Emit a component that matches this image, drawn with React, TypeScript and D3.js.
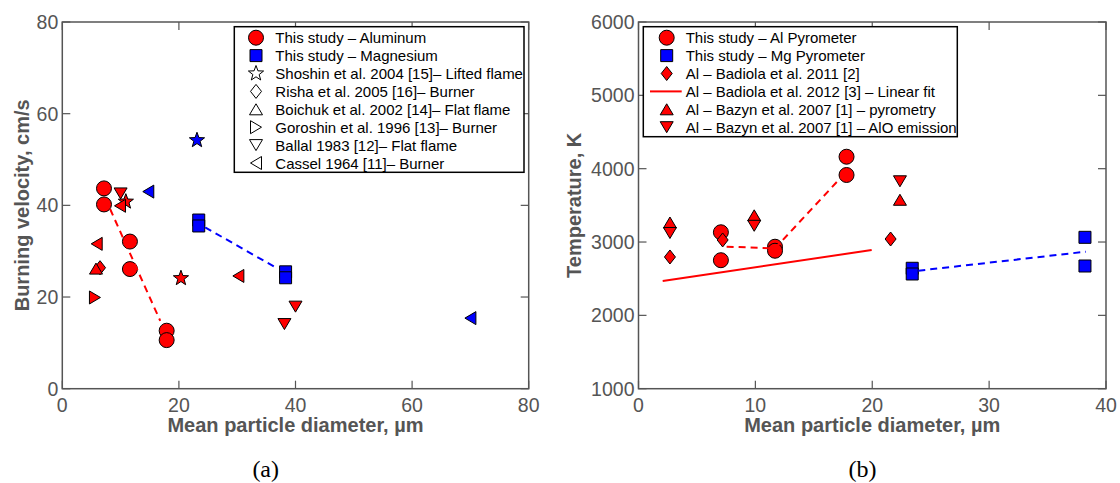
import React from "react";
import * as d3 from "d3";

// ---------------- Panel (a) data ----------------
const aXTicks = [0, 20, 40, 60, 80];
const aYTicks = [0, 20, 40, 60, 80];
const alD = [7.15, 7.15, 11.6, 11.6, 17.9, 17.9];
const alV = [43.7, 40.2, 32.1, 26.1, 12.65, 10.6];
const mgD = [23.4, 23.4, 38.3, 38.3];
const mgV = [36.8, 35.5, 25.5, 24.2];
const alFitD = [8.2, 16.8];
const alFitV = [39.2, 14.8];
const mgFitD = [24.5, 36.8];
const mgFitV = [35.2, 26.3];
const shoshinD = [10.9, 20.35, 23.1];
const shoshinV = [40.8, 24.1, 54.2];
const shoshinM = ["Al", "Al", "Mg"];
const rishaD = [6.47];
const rishaV = [26.4];
const rishaM = ["Al"];
const boichukD = [5.78];
const boichukV = [26.2];
const boichukM = ["Al"];
const goroshinD = [5.6];
const goroshinV = [19.9];
const goroshinM = ["Al"];
const ballalD = [10.0, 40.0, 38.1];
const ballalV = [42.6, 17.9, 14.1];
const ballalM = ["Al", "Al", "Al"];
const casselD = [5.9, 9.9, 30.2, 14.75, 70];
const casselV = [31.6, 39.9, 24.6, 43.0, 15.4];
const casselM = ["Al", "Al", "Al", "Mg", "Mg"];
const aLegend = [
  "This study – Aluminum",
  "This study – Magnesium",
  "Shoshin et al. 2004 [15]– Lifted flame",
  "Risha et al. 2005 [16]– Burner",
  "Boichuk et al. 2002 [14]– Flat flame",
  "Goroshin et al. 1996 [13]– Burner",
  "Ballal 1983 [12]– Flat flame",
  "Cassel 1964 [11]– Burner",
];

// ---------------- Panel (b) data ----------------
const bXTicks = [0, 10, 20, 30, 40];
const bYTicks = [1000, 2000, 3000, 4000, 5000, 6000];
const alPyroD = [7.05, 7.05, 11.68, 11.68, 17.8, 17.8];
const alPyroT = [3133, 2752, 2936, 2881, 4163, 3914];
const mgPyroD = [23.42, 23.42, 38.2, 38.2];
const mgPyroT = [2642, 2564, 3064, 2673];
const alPyroLineD = [7.54, 11.68, 17.66];
const alPyroLineT = [2936, 2914, 3937];
const mgPyroLineD = [23.94, 38.28];
const mgPyroLineT = [2609, 2868];
const badiola2011D = [2.69, 7.2, 21.57];
const badiola2011T = [2796, 3028, 3041];
const badiola2012D = [2.07, 19.95];
const badiola2012T = [2468, 2891];
const bazynPyroD = [2.69, 9.9, 22.37];
const bazynPyroT = [3266, 3364, 3576];
const bazynAlOD = [2.69, 9.9, 22.37];
const bazynAlOT = [3123, 3221, 3828];
const bLegend = [
  "This study – Al Pyrometer",
  "This study – Mg Pyrometer",
  "Al – Badiola et al. 2011 [2]",
  "Al – Badiola et al. 2012 [3] – Linear fit",
  "Al – Bazyn et al. 2007 [1] – pyrometry",
  "Al – Bazyn et al. 2007 [1] – AlO emission",
];

// ---------------- styling ----------------
const RED = "#ff0000";
const BLUE = "#0000ff";
const AXIS = "#555555";
const FONT = "'Liberation Sans', Arial, Helvetica, sans-serif";

function starPath(R: number, r: number) {
  const pts: string[] = [];
  for (let i = 0; i < 10; i++) {
    const rad = i % 2 === 0 ? R : r;
    const a = -Math.PI / 2 + (i * Math.PI) / 5;
    pts.push(`${(rad * Math.cos(a)).toFixed(2)},${(rad * Math.sin(a)).toFixed(2)}`);
  }
  return "M" + pts.join("L") + "Z";
}

const SHAPES: Record<string, string> = {
  up: "M0,-5.5L6.5,5.5L-6.5,5.5Z",
  down: "M0,5.5L6.5,-5.5L-6.5,-5.5Z",
  left: "M-5.5,0L5.5,-6.5L5.5,6.5Z",
  right: "M5.5,0L-5.5,-6.5L-5.5,6.5Z",
  diamond: "M0,-7L5.5,0L0,7L-5.5,0Z",
  star: starPath(8, 3.3),
  square: "M-6,-6L6,-6L6,6L-6,6Z",
};

function Marker({ shape, x, y, fill }: { shape: string; x: number; y: number; fill: string }) {
  if (shape === "circle")
    return <circle cx={x} cy={y} r={7.5} fill={fill} stroke="#000" strokeWidth={1} />;
  return (
    <path d={SHAPES[shape]} transform={`translate(${x},${y})`} fill={fill} stroke="#000" strokeWidth={1} strokeLinejoin="miter" />
  );
}

type Frame = { left: number; right: number; top: number; bottom: number };

function Axes({ frame, xs, ys, xTicks, yTicks, xLabel, yLabel, yLabelX, caption }: any) {
  const tl = 8;
  return (
    <g>
      <rect x={frame.left} y={frame.top} width={frame.right - frame.left} height={frame.bottom - frame.top} fill="none" stroke={AXIS} strokeWidth={1.5} />
      {xTicks.map((t: number) => (
        <g key={"x" + t}>
          <line x1={xs(t)} x2={xs(t)} y1={frame.bottom} y2={frame.bottom - tl} stroke={AXIS} strokeWidth={1.2} />
          <line x1={xs(t)} x2={xs(t)} y1={frame.top} y2={frame.top + tl} stroke={AXIS} strokeWidth={1.2} />
          <text x={xs(t)} y={frame.bottom + 16} textAnchor="middle" dominantBaseline="central" fontFamily={FONT} fontSize={19.5} fill={AXIS}>{t}</text>
        </g>
      ))}
      {yTicks.map((t: number) => (
        <g key={"y" + t}>
          <line x1={frame.left} x2={frame.left + tl} y1={ys(t)} y2={ys(t)} stroke={AXIS} strokeWidth={1.2} />
          <line x1={frame.right} x2={frame.right - tl} y1={ys(t)} y2={ys(t)} stroke={AXIS} strokeWidth={1.2} />
          <text x={frame.left - 4} y={ys(t)} textAnchor="end" dominantBaseline="central" fontFamily={FONT} fontSize={19.5} fill={AXIS}>{t}</text>
        </g>
      ))}
      <text x={(frame.left + frame.right) / 2} y={425} textAnchor="middle" dominantBaseline="central" fontFamily={FONT} fontSize={20} fontWeight="bold" fill={AXIS}>{xLabel}</text>
      <text transform={`translate(${yLabelX},${(frame.top + frame.bottom) / 2}) rotate(-90)`} textAnchor="middle" dominantBaseline="central" fontFamily={FONT} fontSize={20} fontWeight="bold" fill={AXIS}>{yLabel}</text>
      <text x={caption.x} y={469} textAnchor="middle" dominantBaseline="central" fontFamily="'Liberation Serif', 'Times New Roman', serif" fontSize={24} fill="#000">{caption.text}</text>
    </g>
  );
}

function PanelA() {
  const frame: Frame = { left: 62.3, right: 528.7, top: 22, bottom: 388.7 };
  const xs = d3.scaleLinear().domain([0, 80]).range([frame.left, frame.right]);
  const ys = d3.scaleLinear().domain([0, 80]).range([frame.bottom, frame.top]);
  const line = d3.line<[number, number]>().x((d) => xs(d[0])).y((d) => ys(d[1]));
  const col = (m: string) => (m === "Al" ? RED : BLUE);
  const zip = (a: number[], b: number[]) => a.map((v, i) => [v, b[i]] as [number, number]);
  const groups: [string, number[], number[], string[]][] = [
    ["star", shoshinD, shoshinV, shoshinM],
    ["diamond", rishaD, rishaV, rishaM],
    ["up", boichukD, boichukV, boichukM],
    ["right", goroshinD, goroshinV, goroshinM],
    ["down", ballalD, ballalV, ballalM],
    ["left", casselD, casselV, casselM],
  ];
  const legShapes = ["circle", "square", "star", "diamond", "up", "right", "down", "left"];
  const lg = { x: 234.3, y: 26.7, w: 289.7, h: 145.6, mx: 256, tx: 275.3, y0: 37.7, dy: 17.9 };
  return (
    <g>
      <Axes frame={frame} xs={xs} ys={ys} xTicks={aXTicks} yTicks={aYTicks} xLabel="Mean particle diameter, µm" yLabel="Burning velocity, cm/s" yLabelX={21.5} caption={{ x: 265.7, text: "(a)" }} />
      {alD.map((d, i) => <Marker key={"al" + i} shape="circle" x={xs(d)} y={ys(alV[i])} fill={RED} />)}
      {mgD.map((d, i) => <Marker key={"mg" + i} shape="square" x={xs(d)} y={ys(mgV[i])} fill={BLUE} />)}
      {groups.map(([shape, D, V, M]) =>
        D.map((d, i) => <Marker key={shape + i} shape={shape} x={xs(d)} y={ys(V[i])} fill={col(M[i])} />)
      )}
      <path d={line(zip(alFitD, alFitV)) || ""} fill="none" stroke={RED} strokeWidth={2} strokeDasharray="7,5" />
      <path d={line(zip(mgFitD, mgFitV)) || ""} fill="none" stroke={BLUE} strokeWidth={2} strokeDasharray="7,5" />
      <rect x={lg.x} y={lg.y} width={lg.w} height={lg.h} fill="#fff" stroke="#000" strokeWidth={1.5} />
      {aLegend.map((t, i) => (
        <g key={"lga" + i}>
          <Marker shape={legShapes[i]} x={lg.mx} y={lg.y0 + i * lg.dy} fill={i === 0 ? RED : i === 1 ? BLUE : "#fff"} />
          <text x={lg.tx} y={lg.y0 + i * lg.dy} dominantBaseline="central" fontFamily={FONT} fontSize={15} fill="#000">{t}</text>
        </g>
      ))}
    </g>
  );
}

function PanelB() {
  const frame: Frame = { left: 638.5, right: 1106, top: 22, bottom: 388.7 };
  const xs = d3.scaleLinear().domain([0, 40]).range([frame.left, frame.right]);
  const ys = d3.scaleLinear().domain([1000, 6000]).range([frame.bottom, frame.top]);
  const line = d3.line<[number, number]>().x((d) => xs(d[0])).y((d) => ys(d[1]));
  const zip = (a: number[], b: number[]) => a.map((v, i) => [v, b[i]] as [number, number]);
  const lg = { x: 643.3, y: 26.7, w: 314, h: 110, mx: 666.7, tx: 685.7, y0: 37.7, dy: 17.9 };
  const legShapes = ["circle", "square", "diamond", "line", "up", "down"];
  return (
    <g>
      <Axes frame={frame} xs={xs} ys={ys} xTicks={bXTicks} yTicks={bYTicks} xLabel="Mean particle diameter, µm" yLabel="Temperature, K" yLabelX={574.4} caption={{ x: 862.6, text: "(b)" }} />
      <path d={line(zip(badiola2012D, badiola2012T)) || ""} fill="none" stroke={RED} strokeWidth={2} />
      {alPyroD.map((d, i) => <Marker key={"alp" + i} shape="circle" x={xs(d)} y={ys(alPyroT[i])} fill={RED} />)}
      {mgPyroD.map((d, i) => <Marker key={"mgp" + i} shape="square" x={xs(d)} y={ys(mgPyroT[i])} fill={BLUE} />)}
      {badiola2011D.map((d, i) => <Marker key={"b11" + i} shape="diamond" x={xs(d)} y={ys(badiola2011T[i])} fill={RED} />)}
      {bazynPyroD.map((d, i) => <Marker key={"bzp" + i} shape="up" x={xs(d)} y={ys(bazynPyroT[i])} fill={RED} />)}
      {bazynAlOD.map((d, i) => <Marker key={"bza" + i} shape="down" x={xs(d)} y={ys(bazynAlOT[i])} fill={RED} />)}
      <path d={line(zip(alPyroLineD, alPyroLineT)) || ""} fill="none" stroke={RED} strokeWidth={2} strokeDasharray="7,5" />
      <path d={line(zip(mgPyroLineD, mgPyroLineT)) || ""} fill="none" stroke={BLUE} strokeWidth={2} strokeDasharray="7,5" />
      <rect x={lg.x} y={lg.y} width={lg.w} height={lg.h} fill="#fff" stroke="#000" strokeWidth={1.5} />
      {bLegend.map((t, i) => (
        <g key={"lgb" + i}>
          {legShapes[i] === "line" ? (
            <line x1={650} x2={681.7} y1={lg.y0 + i * lg.dy} y2={lg.y0 + i * lg.dy} stroke={RED} strokeWidth={2} />
          ) : (
            <Marker shape={legShapes[i]} x={lg.mx} y={lg.y0 + i * lg.dy} fill={legShapes[i] === "square" ? BLUE : RED} />
          )}
          <text x={lg.tx} y={lg.y0 + i * lg.dy} dominantBaseline="central" fontFamily={FONT} fontSize={15} fill="#000">{t}</text>
        </g>
      ))}
    </g>
  );
}

export default function App() {
  return (
    <svg width={1120} height={483} style={{ position: "absolute", left: 0, top: 0, background: "#fff" }}>
      <rect x={0} y={0} width={1120} height={483} fill="#fff" />
      <PanelA />
      <PanelB />
    </svg>
  );
}
